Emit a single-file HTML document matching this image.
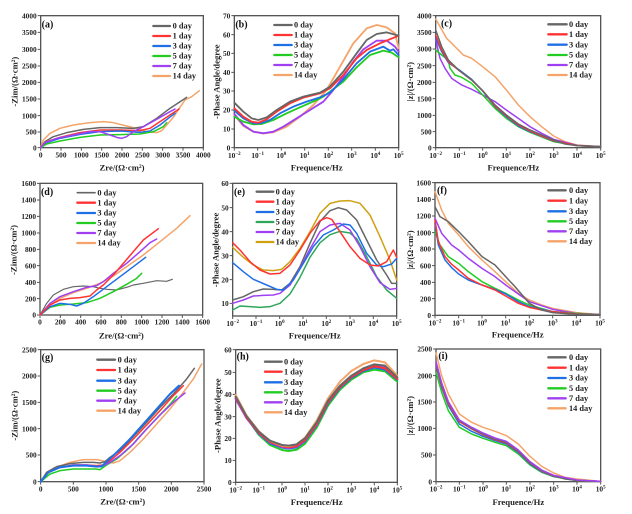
<!DOCTYPE html>
<html><head><meta charset="utf-8"><style>
html,body{margin:0;padding:0;background:#fff}
svg{display:block}
.fr{fill:none;stroke:#555;stroke-width:4}
.tk{stroke:#555;stroke-width:3;fill:none}
.t{font-family:"Liberation Serif",serif;font-weight:bold;font-size:22px;fill:#222}
.al{font-family:"Liberation Serif",serif;font-weight:bold;font-size:26px;fill:#222}
.pl{font-family:"Liberation Serif",serif;font-weight:bold;font-size:30px;fill:#111}
.lg{font-family:"Liberation Serif",serif;font-weight:bold;font-size:25px;fill:#222}
.c{fill:none;stroke-width:4.5;stroke-linejoin:round;stroke-linecap:round}
.l{stroke-width:7}
.k0{stroke:#666}.k1{stroke:#ff3333}.k3{stroke:#1f6fe6}.k5{stroke:#22cc22}.k7{stroke:#a040f2}.k14{stroke:#f4a46a}
.e5{stroke:#2ea65a}.e14{stroke:#d0a012}
.s{font-size:15px}
</style></head><body>
<svg width="632" height="514" viewBox="0 0 632 514" xmlns="http://www.w3.org/2000/svg">
<rect width="632" height="514" fill="#fff"/>

<!-- (a) -->
<g transform="translate(0,0) scale(0.33333)">
<rect x="122" y="47" width="488" height="396" class="fr"/>
<path class="tk" d="M113 47H122M113 97H122M113 148H122M113 198H122M113 247H122M113 297H122M113 347H122M113 396H122M113 443H122M122 443V452M183 443V452M244 443V452M305 443V452M366 443V452M427 443V452M488 443V452M549 443V452M610 443V452"/>
<g class="t" text-anchor="end"><text x="110" y="55">4000</text><text x="110" y="105">3500</text><text x="110" y="156">3000</text><text x="110" y="206">2500</text><text x="110" y="255">2000</text><text x="110" y="305">1500</text><text x="110" y="355">1000</text><text x="110" y="404">500</text><text x="110" y="451">0</text></g>
<g class="t" text-anchor="middle"><text x="122" y="472">0</text><text x="183" y="472">500</text><text x="244" y="472">1000</text><text x="305" y="472">1500</text><text x="366" y="472">2000</text><text x="427" y="472">2500</text><text x="488" y="472">3000</text><text x="549" y="472">3500</text><text x="610" y="472">4000</text></g>
<text class="al" text-anchor="middle" x="366" y="511">Zre/(Ω·cm²)</text>
<text class="al" text-anchor="middle" transform="translate(52,245) rotate(-90)">-Zim/(Ω·cm²)</text>
<text class="pl" x="125" y="82">(a)</text>
<g><path class="c l k0" d="M460 78H510"/><path class="c l k1" d="M460 108H510"/><path class="c l k3" d="M460 138H510"/><path class="c l k5" d="M460 168H510"/><path class="c l k7" d="M460 198H510"/><path class="c l k14" d="M460 228H510"/></g>
<g class="lg"><text x="518" y="86">0 day</text><text x="518" y="116">1 day</text><text x="518" y="146">3 day</text><text x="518" y="176">5 day</text><text x="518" y="206">7 day</text><text x="518" y="236">14 day</text></g>
<polyline class="c k14" points="122,443 130,420 150,400 180,385 220,375 270,368 310,365 340,368 380,378 410,385 440,395 470,398 485,392 500,375 520,352 540,322 555,300 575,290 598,272"/>
<polyline class="c k0" points="122,443 135,425 160,410 200,398 250,388 300,383 350,383 400,385 430,380 470,355 510,325 560,292"/>
<polyline class="c k1" points="122,443 140,425 180,412 240,398 300,390 360,390 420,392 450,385 480,365 510,345 537,327"/>
<polyline class="c k3" points="122,443 140,428 180,415 240,403 300,395 360,393 420,397 450,393 480,375 505,355 525,340"/>
<polyline class="c k5" points="122,443 140,432 180,423 240,412 300,405 360,404 420,402 460,395 490,380 500,368"/>
<polyline class="c k7" points="122,443 135,428 170,415 220,405 270,395 300,395 330,405 350,412 365,415 380,410 400,395 430,380 470,358 510,335 525,327"/>
</g>

<!-- (b) -->
<g transform="translate(210,0) scale(0.33333)">
<rect x="73" y="47" width="493" height="396" class="fr"/>
<path class="tk" d="M64 47H73M64 104H73M64 160H73M64 217H73M64 273H73M64 330H73M64 387H73M64 443H73M73 443V452M143 443V452M214 443V452M284 443V452M355 443V452M425 443V452M496 443V452M566 443V452"/>
<g class="t" text-anchor="end"><text x="61" y="55">70</text><text x="61" y="112">60</text><text x="61" y="168">50</text><text x="61" y="225">40</text><text x="61" y="281">30</text><text x="61" y="338">20</text><text x="61" y="395">10</text><text x="61" y="451">0</text></g>
<g class="t" text-anchor="middle"><text x="73" y="474">10<tspan class="s" dy="-9">−2</tspan></text><text x="143" y="474">10<tspan class="s" dy="-9">−1</tspan></text><text x="214" y="474">10<tspan class="s" dy="-9">0</tspan></text><text x="284" y="474">10<tspan class="s" dy="-9">1</tspan></text><text x="355" y="474">10<tspan class="s" dy="-9">2</tspan></text><text x="425" y="474">10<tspan class="s" dy="-9">3</tspan></text><text x="496" y="474">10<tspan class="s" dy="-9">4</tspan></text><text x="566" y="474">10<tspan class="s" dy="-9">5</tspan></text></g>
<text class="al" text-anchor="middle" x="320" y="511">Frequence/Hz</text>
<text class="al" text-anchor="middle" transform="translate(28,245) rotate(-90)">-Phase Angle/degree</text>
<text class="pl" x="76" y="82">(b)</text>
<g><path class="c l k0" d="M193 75H245"/><path class="c l k1" d="M193 105H245"/><path class="c l k3" d="M193 135H245"/><path class="c l k5" d="M193 165H245"/><path class="c l k7" d="M193 195H245"/><path class="c l k14" d="M193 225H245"/></g>
<g class="lg"><text x="252" y="83">0 day</text><text x="252" y="113">1 day</text><text x="252" y="143">3 day</text><text x="252" y="173">5 day</text><text x="252" y="203">7 day</text><text x="252" y="233">14 day</text></g>
<polyline class="c k14" style="stroke-width:5.5" points="73,345 100,378 130,395 160,400 190,397 230,380 270,350 310,315 350,270 390,200 430,130 470,85 500,75 530,82 555,100 566,145"/>
<polyline class="c k7" style="stroke-width:5.5" points="73,342 100,375 130,395 160,400 190,395 220,380 260,355 300,330 340,305 370,270 400,230 430,185 460,148 500,122 530,122 555,140 566,155"/>
<polyline class="c k5" style="stroke-width:5.5" points="73,350 100,365 130,373 155,372 190,360 230,340 270,322 320,300 340,290 360,275 400,245 440,202 480,165 520,152 545,158 566,172"/>
<polyline class="c k3" style="stroke-width:5.5" points="73,332 100,355 130,370 150,370 180,360 210,340 250,320 290,305 330,292 360,278 400,238 440,190 480,155 520,140 540,152 550,148 566,165"/>
<polyline class="c k1" style="stroke-width:5.5" points="73,325 100,350 125,365 145,368 170,358 200,335 240,310 280,293 330,280 360,265 400,225 440,175 470,150 510,130 566,107"/>
<polyline class="c k0" style="stroke-width:5.5" points="73,308 100,335 125,355 145,360 170,352 200,330 240,305 280,290 330,278 360,260 400,215 440,160 470,120 500,102 530,97 566,107"/>
</g>

<!-- (c) -->
<g transform="translate(415,0) scale(0.33333)">
<rect x="62" y="47" width="495" height="396" class="fr"/>
<path class="tk" d="M53 47H62M53 97H62M53 147H62M53 197H62M53 247H62M53 296H62M53 346H62M53 395H62M53 443H62M62 443V452M133 443V452M203 443V452M274 443V452M345 443V452M416 443V452M486 443V452M557 443V452"/>
<g class="t" text-anchor="end"><text x="50" y="55">4000</text><text x="50" y="105">3500</text><text x="50" y="155">3000</text><text x="50" y="205">2500</text><text x="50" y="255">2000</text><text x="50" y="304">1500</text><text x="50" y="354">1000</text><text x="50" y="403">500</text><text x="50" y="451">0</text></g>
<g class="t" text-anchor="middle"><text x="62" y="474">10<tspan class="s" dy="-9">−2</tspan></text><text x="133" y="474">10<tspan class="s" dy="-9">−1</tspan></text><text x="203" y="474">10<tspan class="s" dy="-9">0</tspan></text><text x="274" y="474">10<tspan class="s" dy="-9">1</tspan></text><text x="345" y="474">10<tspan class="s" dy="-9">2</tspan></text><text x="416" y="474">10<tspan class="s" dy="-9">3</tspan></text><text x="486" y="474">10<tspan class="s" dy="-9">4</tspan></text><text x="557" y="474">10<tspan class="s" dy="-9">5</tspan></text></g>
<text class="al" text-anchor="middle" x="295" y="511">Frequence/Hz</text>
<text class="al" text-anchor="middle" transform="translate(-6,245) rotate(-90)">|z|/(Ω·cm²)</text>
<text class="pl" x="78" y="80">(c)</text>
<g><path class="c l k0" d="M400 73H455"/><path class="c l k1" d="M400 103H455"/><path class="c l k3" d="M400 134H455"/><path class="c l k5" d="M400 165H455"/><path class="c l k7" d="M400 195H455"/><path class="c l k14" d="M400 225H455"/></g>
<g class="lg"><text x="462" y="81">0 day</text><text x="462" y="111">1 day</text><text x="462" y="142">3 day</text><text x="462" y="173">5 day</text><text x="462" y="203">7 day</text><text x="462" y="233">14 day</text></g>
<polyline class="c k14" points="62,57 75,80 95,115 125,145 145,165 170,175 203,200 240,230 274,270 310,315 345,350 380,380 416,408 450,425 486,435 557,440"/>
<polyline class="c k7" points="62,120 75,175 90,205 110,235 140,255 170,268 203,285 240,305 274,330 310,355 345,380 380,400 416,418 486,436 557,440"/>
<polyline class="c k5" points="62,150 80,165 100,180 105,205 120,225 140,232 170,250 203,285 240,325 274,355 310,380 345,397 416,425 486,437 557,440"/>
<polyline class="c k3" points="62,115 80,155 100,188 133,210 170,238 203,273 240,320 274,350 310,378 345,395 416,423 486,437 557,440"/>
<polyline class="c k1" points="62,105 80,150 100,185 133,212 170,240 203,272 240,318 274,347 310,375 345,393 380,408 416,422 486,437 557,440"/>
<polyline class="c k0" points="62,90 80,140 100,180 133,212 170,240 203,272 240,315 274,345 310,372 345,390 380,405 416,420 450,432 486,437 557,440"/>
</g>

<!-- (d) -->
<g transform="translate(0,170) scale(0.33333)">
<rect x="120" y="40" width="488" height="395" class="fr"/>
<path class="tk" d="M111 40H120M111 90H120M111 139H120M111 189H120M111 238H120M111 287H120M111 337H120M111 386H120M111 435H120M120 435V444M181 435V444M242 435V444M303 435V444M364 435V444M425 435V444M486 435V444M547 435V444M608 435V444"/>
<g class="t" text-anchor="end"><text x="108" y="48">1600</text><text x="108" y="98">1400</text><text x="108" y="147">1200</text><text x="108" y="197">1000</text><text x="108" y="246">800</text><text x="108" y="295">600</text><text x="108" y="345">400</text><text x="108" y="394">200</text><text x="108" y="443">0</text></g>
<g class="t" text-anchor="middle"><text x="120" y="464">0</text><text x="181" y="464">200</text><text x="242" y="464">400</text><text x="303" y="464">600</text><text x="364" y="464">800</text><text x="425" y="464">1000</text><text x="486" y="464">1200</text><text x="547" y="464">1400</text><text x="608" y="464">1600</text></g>
<text class="al" text-anchor="middle" x="364" y="505">Zre/(Ω·cm²)</text>
<text class="al" text-anchor="middle" transform="translate(50,240) rotate(-90)">-Zim/(Ω·cm²)</text>
<text class="pl" x="123" y="75">(d)</text>
<g><path class="c l k0" d="M232 68H285" style="stroke-width:5"/><path class="c l k1" d="M232 98H285"/><path class="c l k3" d="M232 129H285"/><path class="c l k5" d="M232 159H285"/><path class="c l k7" d="M232 189H285"/><path class="c l k14" d="M232 219H285"/></g>
<g class="lg"><text x="292" y="76">0 day</text><text x="292" y="106">1 day</text><text x="292" y="137">3 day</text><text x="292" y="167">5 day</text><text x="292" y="197">7 day</text><text x="292" y="227">14 day</text></g>
<polyline class="c k0" style="stroke-width:3.5" points="120,435 140,400 160,375 190,358 220,350 250,348 280,350 300,355 320,358 350,360 380,352 400,345 430,340 470,332 500,334 517,328"/>
<polyline class="c k14" points="120,435 150,405 180,385 220,368 260,355 300,340 340,318 380,290 430,255 480,215 530,175 570,137"/>
<polyline class="c k5" points="120,435 150,412 180,405 220,402 260,398 300,385 340,365 380,343 410,325 425,310"/>
<polyline class="c k3" points="120,435 150,410 180,400 210,403 230,408 250,400 280,380 320,350 360,320 400,290 437,262"/>
<polyline class="c k7" points="120,435 150,400 180,380 220,365 260,352 290,347 310,335 340,310 380,280 420,245 450,218 470,207"/>
<polyline class="c k1" points="120,435 150,405 180,390 210,385 240,383 270,378 290,360 310,345 340,315 370,280 400,245 430,210 475,176"/>
</g>

<!-- (e) -->
<g transform="translate(210,170) scale(0.33333)">
<rect x="68" y="40" width="492" height="398" class="fr"/>
<path class="tk" d="M59 40H68M59 113H68M59 185H68M59 257H68M59 329H68M59 400H68M68 438V447M138 438V447M209 438V447M279 438V447M349 438V447M420 438V447M490 438V447M560 438V447"/>
<g class="t" text-anchor="end"><text x="56" y="48">60</text><text x="56" y="121">50</text><text x="56" y="193">40</text><text x="56" y="265">30</text><text x="56" y="337">20</text><text x="56" y="408">10</text></g>
<g class="t" text-anchor="middle"><text x="68" y="468">10<tspan class="s" dy="-9">−2</tspan></text><text x="138" y="468">10<tspan class="s" dy="-9">−1</tspan></text><text x="209" y="468">10<tspan class="s" dy="-9">0</tspan></text><text x="279" y="468">10<tspan class="s" dy="-9">1</tspan></text><text x="349" y="468">10<tspan class="s" dy="-9">2</tspan></text><text x="420" y="468">10<tspan class="s" dy="-9">3</tspan></text><text x="490" y="468">10<tspan class="s" dy="-9">4</tspan></text><text x="560" y="468">10<tspan class="s" dy="-9">5</tspan></text></g>
<text class="al" text-anchor="middle" x="314" y="505">Frequence/Hz</text>
<text class="al" text-anchor="middle" transform="translate(26,240) rotate(-90)">-Phase Angle/degree</text>
<text class="pl" x="72" y="75">(e)</text>
<g><path class="c l k0" d="M140 65H190"/><path class="c l k1" d="M140 95H190"/><path class="c l k3" d="M140 126H190"/><path class="c l e5" d="M140 156H190"/><path class="c l k7" d="M140 186H190"/><path class="c l e14" d="M140 216H190"/></g>
<g class="lg"><text x="197" y="73">0 day</text><text x="197" y="103">1 day</text><text x="197" y="134">3 day</text><text x="197" y="164">5 day</text><text x="197" y="194">7 day</text><text x="197" y="224">14 day</text></g>
<polyline class="c e14" points="68,232 100,262 130,285 160,300 190,302 215,298 240,275 270,235 300,185 330,130 360,100 390,93 420,92 450,100 480,135 510,200 540,270 560,330"/>
<polyline class="c k0" points="68,390 100,380 130,365 160,357 190,358 215,360 240,340 270,290 300,220 330,155 360,122 385,113 410,120 440,150 470,210 500,270 530,315 545,340 560,340"/>
<polyline class="c e5" points="68,420 90,408 120,410 150,412 180,410 210,400 240,372 270,322 300,262 330,218 360,194 390,184 420,189 440,206 470,260 500,320 530,360 560,385"/>
<polyline class="c k7" points="68,400 100,390 130,378 160,376 190,375 210,370 240,345 270,295 300,237 330,185 360,165 390,160 420,180 450,230 480,290 510,338 540,358 560,355"/>
<polyline class="c k3" points="68,278 100,305 130,328 170,345 200,358 220,360 250,330 280,280 310,230 340,195 370,180 400,162 420,165 440,190 470,250 500,285 520,290 545,282 560,265"/>
<polyline class="c k1" points="68,218 90,240 120,275 150,300 180,312 210,310 240,285 270,240 300,190 330,152 350,143 365,148 390,185 420,230 450,265 480,285 505,288 530,275 550,240 560,262"/>
</g>

<!-- (f) -->
<g transform="translate(415,170) scale(0.33333)">
<rect x="60" y="38" width="495" height="398" class="fr"/>
<path class="tk" d="M51 38H60M51 88H60M51 138H60M51 188H60M51 237H60M51 287H60M51 337H60M51 386H60M51 436H60M60 436V445M131 436V445M201 436V445M272 436V445M343 436V445M413 436V445M484 436V445M555 436V445"/>
<g class="t" text-anchor="end"><text x="48" y="46">1600</text><text x="48" y="96">1400</text><text x="48" y="146">1200</text><text x="48" y="196">1000</text><text x="48" y="245">800</text><text x="48" y="295">600</text><text x="48" y="345">400</text><text x="48" y="394">200</text><text x="48" y="444">0</text></g>
<g class="t" text-anchor="middle"><text x="60" y="466">10<tspan class="s" dy="-9">−2</tspan></text><text x="131" y="466">10<tspan class="s" dy="-9">−1</tspan></text><text x="201" y="466">10<tspan class="s" dy="-9">0</tspan></text><text x="272" y="466">10<tspan class="s" dy="-9">1</tspan></text><text x="343" y="466">10<tspan class="s" dy="-9">2</tspan></text><text x="413" y="466">10<tspan class="s" dy="-9">3</tspan></text><text x="484" y="466">10<tspan class="s" dy="-9">4</tspan></text><text x="555" y="466">10<tspan class="s" dy="-9">5</tspan></text></g>
<text class="al" text-anchor="middle" x="308" y="503">Frequence/Hz</text>
<text class="al" text-anchor="middle" transform="translate(-6,240) rotate(-90)">|z|/(Ω·cm²)</text>
<text class="pl" x="66" y="70">(f)</text>
<g><path class="c l k0" d="M400 61H452"/><path class="c l k1" d="M400 92H452"/><path class="c l k3" d="M400 124H452"/><path class="c l k5" d="M400 154H452"/><path class="c l k7" d="M400 184H452"/><path class="c l k14" d="M400 214H452"/></g>
<g class="lg"><text x="462" y="69">0 day</text><text x="462" y="100">1 day</text><text x="462" y="132">3 day</text><text x="462" y="162">5 day</text><text x="462" y="192">7 day</text><text x="462" y="222">14 day</text></g>
<polyline class="c k14" points="60,65 80,120 100,160 131,195 160,230 201,270 240,305 272,335 310,370 343,390 380,405 413,415 484,428 555,434"/>
<polyline class="c k7" points="60,145 80,190 110,225 131,240 160,265 201,295 240,320 272,345 310,372 343,395 413,418 484,430 555,434"/>
<polyline class="c k5" points="60,185 75,225 100,260 131,280 160,305 201,335 240,355 272,370 310,390 343,405 413,425 484,430 555,434"/>
<polyline class="c k3" points="60,160 70,225 90,270 110,293 131,312 160,330 201,345 240,358 272,372 310,395 343,410 413,425 484,432 555,434"/>
<polyline class="c k1" points="60,150 70,215 90,260 110,283 131,300 160,325 201,345 240,360 272,378 310,400 343,412 380,420 413,425 484,432 555,434"/>
<polyline class="c k0" points="60,110 75,140 100,155 131,185 160,215 201,260 240,285 272,320 300,350 343,400 380,420 413,428 484,433 555,434"/>
</g>

<!-- (g) -->
<g transform="translate(0,339) scale(0.33333)">
<rect x="122" y="32" width="490" height="396" class="fr"/>
<path class="tk" d="M113 32H122M113 111H122M113 190H122M113 269H122M113 348H122M113 428H122M122 428V437M220 428V437M318 428V437M416 428V437M514 428V437M612 428V437"/>
<g class="t" text-anchor="end"><text x="110" y="40">2500</text><text x="110" y="119">2000</text><text x="110" y="198">1500</text><text x="110" y="277">1000</text><text x="110" y="356">500</text><text x="110" y="436">0</text></g>
<g class="t" text-anchor="middle"><text x="122" y="457">0</text><text x="220" y="457">500</text><text x="318" y="457">1000</text><text x="416" y="457">1500</text><text x="514" y="457">2000</text><text x="612" y="457">2500</text></g>
<text class="al" text-anchor="middle" x="368" y="497">Zre/(Ω·cm²)</text>
<text class="al" text-anchor="middle" transform="translate(52,230) rotate(-90)">-Zim/(Ω·cm²)</text>
<text class="pl" x="125" y="65">(g)</text>
<g><path class="c l k0" d="M292 62H345"/><path class="c l k1" d="M292 93H345"/><path class="c l k3" d="M292 125H345"/><path class="c l k5" d="M292 155H345"/><path class="c l k7" d="M292 185H345"/><path class="c l k14" d="M292 215H345"/></g>
<g class="lg"><text x="353" y="70">0 day</text><text x="353" y="101">1 day</text><text x="353" y="133">3 day</text><text x="353" y="163">5 day</text><text x="353" y="193">7 day</text><text x="353" y="223">14 day</text></g>
<polyline class="c k14" points="122,428 140,405 170,385 210,370 250,362 290,362 320,368 340,372 360,365 390,340 430,300 470,255 510,210 550,160 580,120 605,75"/>
<polyline class="c k0" points="122,428 140,400 170,383 210,374 250,370 280,370 300,372 315,368 330,355 360,335 400,293 440,250 480,205 520,165 560,120 583,88"/>
<polyline class="c k1" points="122,428 145,398 180,385 220,378 260,378 290,380 310,378 330,365 360,340 400,300 440,258 480,215 520,170 550,140"/>
<polyline class="c k5" points="122,428 150,405 180,395 220,390 260,390 285,390 300,392 320,378 350,360 390,325 430,280 470,238 510,196 530,172"/>
<polyline class="c k7" points="122,428 145,400 180,385 220,378 260,378 290,382 310,380 330,370 360,350 400,315 440,270 480,228 520,190 555,162"/>
<polyline class="c k3" style="stroke-width:6" points="122,428 145,400 180,385 220,380 260,380 290,383 305,382 320,368 350,340 390,300 430,255 470,210 510,165 537,140"/>
</g>

<!-- (h) -->
<g transform="translate(210,339) scale(0.33333)">
<rect x="77" y="32" width="485" height="398" class="fr"/>
<path class="tk" d="M68 32H77M68 100H77M68 166H77M68 233H77M68 298H77M68 364H77M68 430H77M77 430V439M146 430V439M216 430V439M285 430V439M354 430V439M424 430V439M493 430V439M562 430V439"/>
<g class="t" text-anchor="end"><text x="65" y="40">60</text><text x="65" y="108">50</text><text x="65" y="174">40</text><text x="65" y="241">30</text><text x="65" y="306">20</text><text x="65" y="372">10</text><text x="65" y="438">0</text></g>
<g class="t" text-anchor="middle"><text x="77" y="460">10<tspan class="s" dy="-9">−2</tspan></text><text x="146" y="460">10<tspan class="s" dy="-9">−1</tspan></text><text x="216" y="460">10<tspan class="s" dy="-9">0</tspan></text><text x="285" y="460">10<tspan class="s" dy="-9">1</tspan></text><text x="354" y="460">10<tspan class="s" dy="-9">2</tspan></text><text x="424" y="460">10<tspan class="s" dy="-9">3</tspan></text><text x="493" y="460">10<tspan class="s" dy="-9">4</tspan></text><text x="562" y="460">10<tspan class="s" dy="-9">5</tspan></text></g>
<text class="al" text-anchor="middle" x="320" y="498">Frequence/Hz</text>
<text class="al" text-anchor="middle" transform="translate(32,230) rotate(-90)">-Phase Angle/degree</text>
<text class="pl" x="80" y="62">(h)</text>
<g><path class="c l k0" d="M165 68H215"/><path class="c l k1" d="M165 98H215"/><path class="c l k3" d="M165 130H215"/><path class="c l k5" d="M165 160H215"/><path class="c l k7" d="M165 190H215"/><path class="c l k14" d="M165 220H215"/></g>
<g class="lg"><text x="222" y="76">0 day</text><text x="222" y="106">1 day</text><text x="222" y="138">3 day</text><text x="222" y="168">5 day</text><text x="222" y="198">7 day</text><text x="222" y="228">14 day</text></g>
<polyline class="c k5" style="stroke-width:6" points="77,172 110,236 146,287 180,318 216,333 236,336 260,332 285,314 320,266 354,200 390,152 424,122 460,100 493,92 525,97 562,128"/>
<polyline class="c k3" style="stroke-width:6" points="77,178 110,237 146,284 180,313 216,326 236,329 260,325 285,307 320,259 354,194 390,147 424,117 460,96 493,86 525,92 562,122"/>
<polyline class="c k7" style="stroke-width:6" points="77,180 110,238 146,282 180,310 216,324 236,327 260,323 285,305 320,257 354,190 390,143 424,112 460,90 493,80 525,86 562,120"/>
<polyline class="c k1" style="stroke-width:6" points="77,175 110,235 146,281 180,309 216,322 236,325 260,321 285,303 320,255 354,190 390,144 424,114 460,93 493,82 525,88 562,120"/>
<polyline class="c k14" style="stroke-width:6" points="77,168 110,230 146,276 180,306 216,320 236,322 260,316 285,296 320,245 354,178 390,128 424,96 460,75 493,64 525,70 562,110"/>
<polyline class="c k0" style="stroke-width:6" points="77,173 110,232 146,278 180,305 216,318 236,320 260,316 285,298 320,250 354,185 390,140 424,110 460,88 493,76 525,80 562,115"/>
</g>

<!-- (i) -->
<g transform="translate(415,339) scale(0.33333)">
<rect x="63" y="30" width="494" height="398" class="fr"/>
<path class="tk" d="M54 30H63M54 110H63M54 189H63M54 268H63M54 348H63M54 428H63M63 428V437M133 428V437M204 428V437M274 428V437M345 428V437M416 428V437M486 428V437M557 428V437"/>
<g class="t" text-anchor="end"><text x="51" y="38">2500</text><text x="51" y="118">2000</text><text x="51" y="197">1500</text><text x="51" y="276">1000</text><text x="51" y="356">500</text><text x="51" y="436">0</text></g>
<g class="t" text-anchor="middle"><text x="63" y="458">10<tspan class="s" dy="-9">−2</tspan></text><text x="133" y="458">10<tspan class="s" dy="-9">−1</tspan></text><text x="204" y="458">10<tspan class="s" dy="-9">0</tspan></text><text x="274" y="458">10<tspan class="s" dy="-9">1</tspan></text><text x="345" y="458">10<tspan class="s" dy="-9">2</tspan></text><text x="416" y="458">10<tspan class="s" dy="-9">3</tspan></text><text x="486" y="458">10<tspan class="s" dy="-9">4</tspan></text><text x="557" y="458">10<tspan class="s" dy="-9">5</tspan></text></g>
<text class="al" text-anchor="middle" x="310" y="498">Frequence/Hz</text>
<text class="al" text-anchor="middle" transform="translate(-6,230) rotate(-90)">|z|/(Ω·cm²)</text>
<text class="pl" x="70" y="60">(i)</text>
<g><path class="c l k0" d="M400 55H452"/><path class="c l k1" d="M400 86H452"/><path class="c l k3" d="M400 117H452"/><path class="c l k5" d="M400 148H452"/><path class="c l k7" d="M400 178H452"/><path class="c l k14" d="M400 208H452"/></g>
<g class="lg"><text x="462" y="63">0 day</text><text x="462" y="94">1 day</text><text x="462" y="125">3 day</text><text x="462" y="156">5 day</text><text x="462" y="186">7 day</text><text x="462" y="216">14 day</text></g>
<polyline class="c k14" points="63,42 80,110 100,165 133,225 170,250 204,265 240,277 274,290 310,315 345,352 380,382 416,402 450,415 486,420 557,427"/>
<polyline class="c k5" points="63,100 80,160 100,215 133,265 170,285 204,298 240,310 274,320 310,345 345,378 380,400 416,413 486,425 557,427"/>
<polyline class="c k3" points="63,80 80,145 100,200 133,255 170,277 204,292 240,305 274,315 310,340 345,375 380,398 416,412 486,424 557,427"/>
<polyline class="c k1" points="63,75 80,140 100,195 133,248 170,270 204,287 240,302 274,312 310,337 345,372 380,396 416,411 486,424 557,427"/>
<polyline class="c k0" points="63,70 80,135 100,190 133,245 170,268 204,285 240,300 274,310 310,335 345,370 380,395 416,410 450,420 486,424 557,427"/>
<polyline class="c k7" points="63,68 80,132 100,188 133,243 170,265 204,282 240,297 274,307 310,333 345,368 380,393 416,409 486,423 557,427"/>
</g>
</svg>
</body></html>
